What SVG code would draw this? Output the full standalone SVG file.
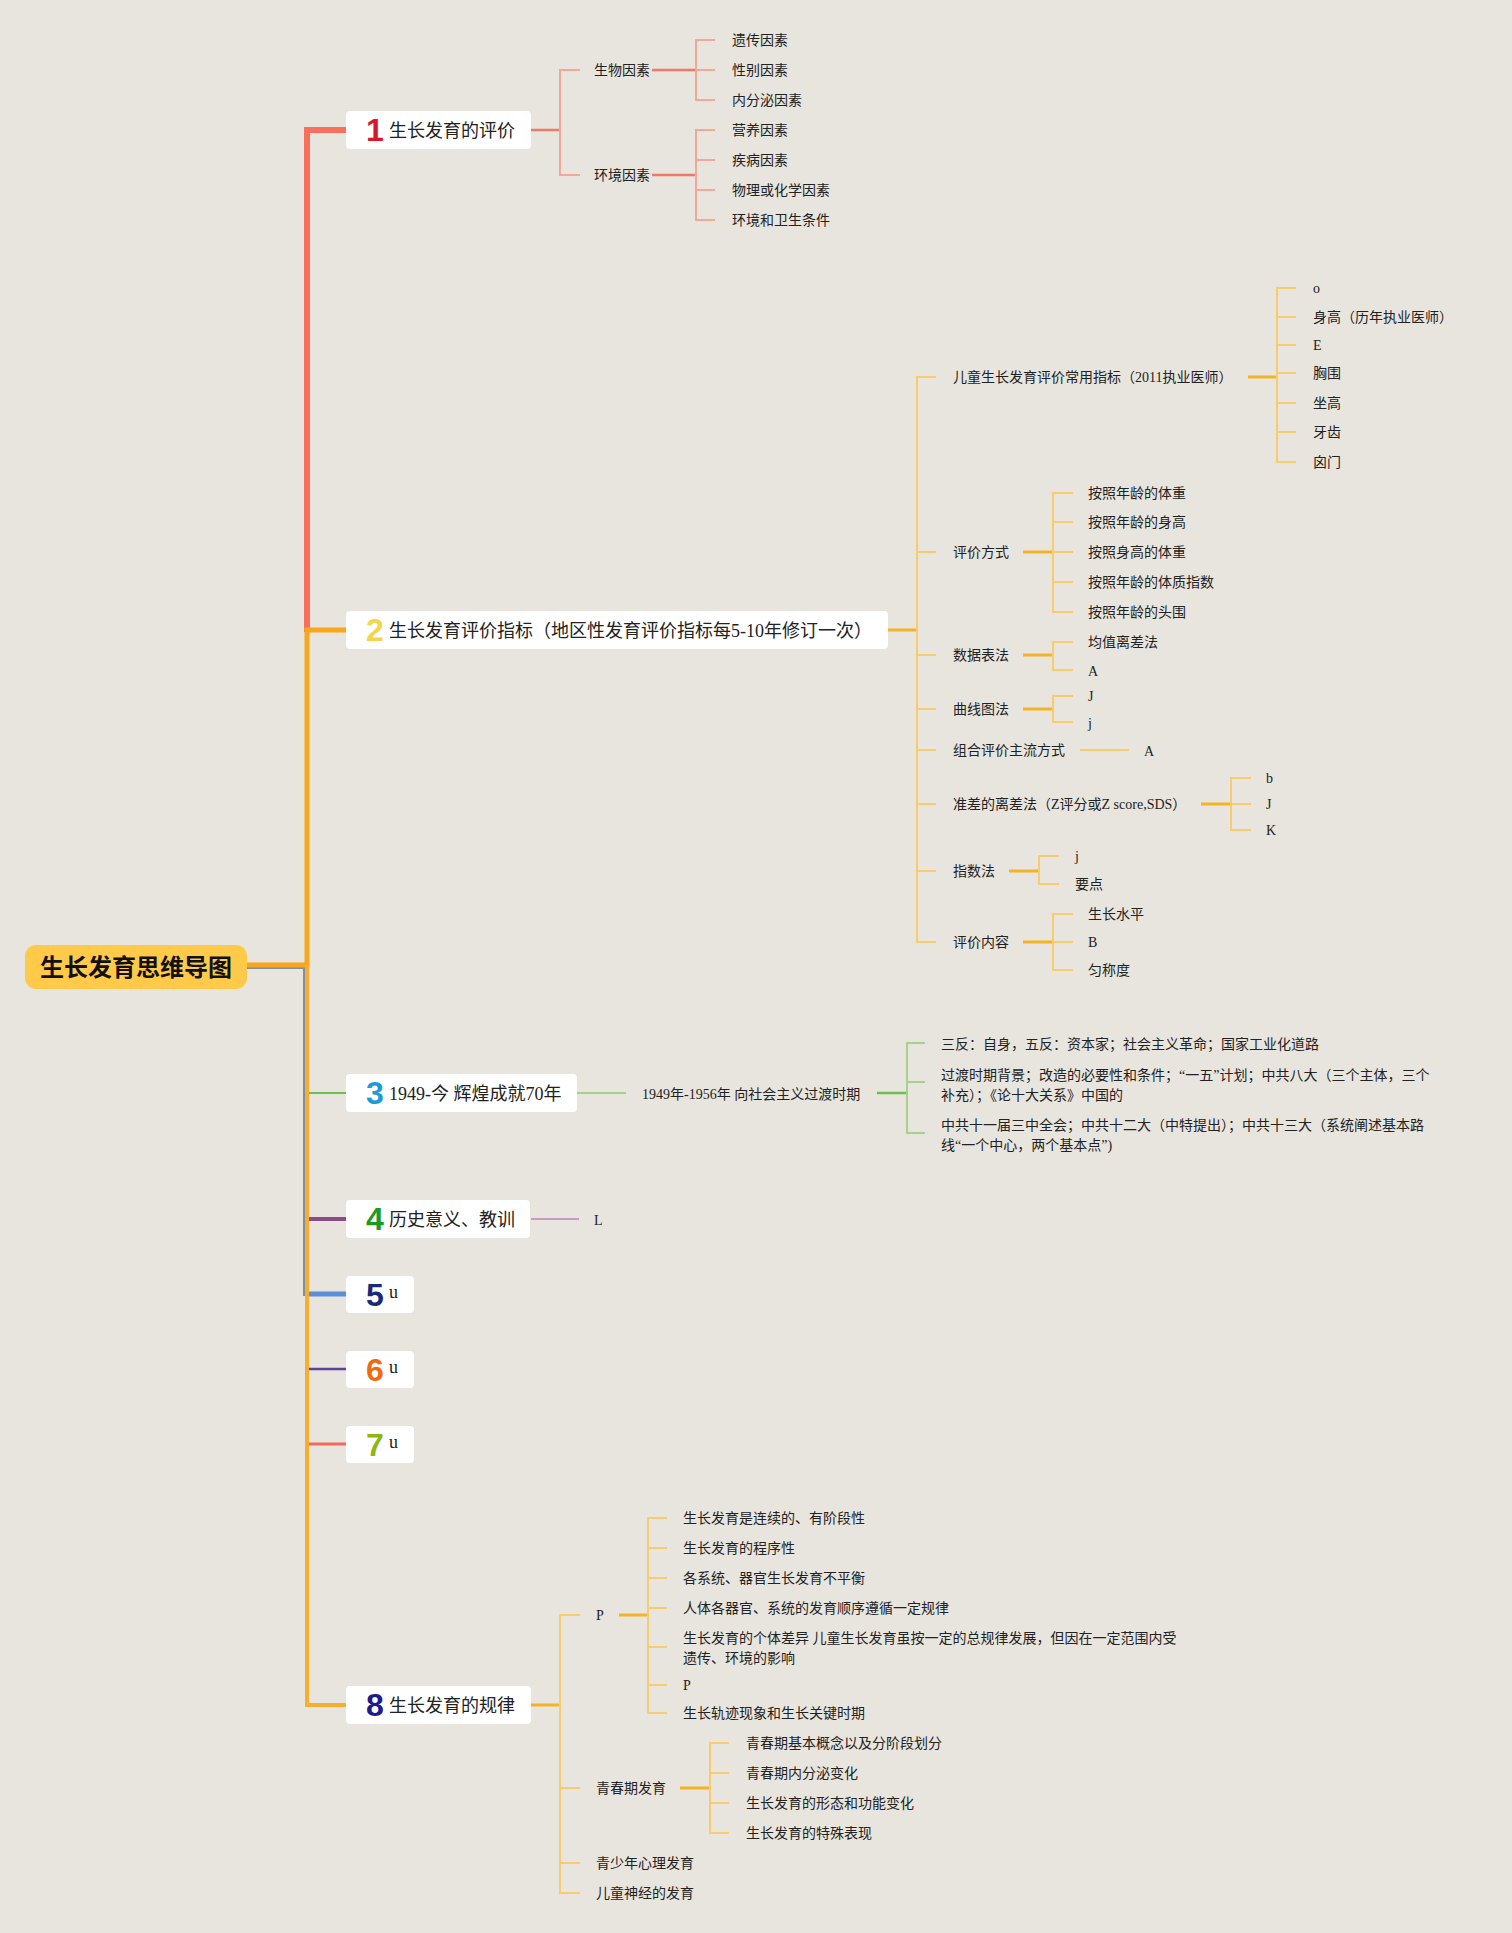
<svg xmlns="http://www.w3.org/2000/svg" width="1512" height="1933" viewBox="0 0 1512 1933">
<style>
.t{font-family:"Liberation Serif","Noto Sans CJK SC",serif;fill:#222}
.s14{font-size:14px}
.s18{font-size:18px}
.num{font-family:"Liberation Sans",Arial,sans-serif;font-weight:bold;font-size:32px}
.box{fill:#ffffff}
.c{fill:none;stroke-linecap:butt;stroke-linejoin:miter}
.r1{stroke:#EC7A66;stroke-width:2.5}
.r2{stroke:#F2A898;stroke-width:2}
.o1{stroke:#F5B226;stroke-width:3}
.o2{stroke:#F8CB6E;stroke-width:2}
.g1{stroke:#6DBE4A;stroke-width:2.5}
.g2{stroke:#A8D08D;stroke-width:2}
</style>
<rect x="0" y="0" width="1512" height="1933" fill="#E8E5DE"/>
<g id="connectors">
  <path class="c" d="M247,968 H304 V1296" stroke="#7F8DA2" stroke-width="2"/>
  <path class="c" d="M307,1294 H346" stroke="#5C8FD6" stroke-width="5"/>
  <path class="c" d="M307,632 V130 H346" stroke="#F86F5E" stroke-width="6"/>
  <path class="c" d="M247,965 H307 V630 H346" stroke="#F9A61B" stroke-width="5"/>
  <path class="c" d="M307,965 V1705 H346" stroke="#F7AE2E" stroke-width="4"/>
  <path class="c" d="M309,1093 H346" stroke="#6DBF4B" stroke-width="2"/>
  <path class="c" d="M309,1219 H346" stroke="#8C4A86" stroke-width="4"/>
  <path class="c" d="M309,1369 H346" stroke="#5B4199" stroke-width="2.5"/>
  <path class="c" d="M309,1444 H346" stroke="#F06B5B" stroke-width="3"/>
  <!-- branch 1 -->
  <path class="c r1" d="M531,130 H560"/>
  <path class="c r2" d="M580,70 H560 V175 H580"/>
  <path class="c r1" d="M652,70 H696"/>
  <path class="c r2" d="M715,40 H696 V100 H715 M696,70 H715"/>
  <path class="c r1" d="M652,175 H696"/>
  <path class="c r2" d="M715,130 H696 V220 H715 M696,160 H715 M696,190 H715"/>
  <!-- branch 2 -->
  <path class="c o1" d="M888,630 H917"/>
  <path class="c o2" d="M936,377 H917 V942 H936 M917,552 H936 M917,655 H936 M917,709 H936 M917,750 H936 M917,804 H936 M917,871 H936"/>
  <path class="c o1" d="M1248,377 H1277"/>
  <path class="c o2" d="M1296,288 H1277 V462 H1296 M1277,317 H1296 M1277,345 H1296 M1277,373 H1296 M1277,403 H1296 M1277,432 H1296"/>
  <path class="c o1" d="M1023,552 H1053"/>
  <path class="c o2" d="M1073,493 H1053 V612 H1073 M1053,522 H1073 M1053,552 H1073 M1053,582 H1073"/>
  <path class="c o1" d="M1023,655 H1053"/>
  <path class="c o2" d="M1073,642 H1053 V670 H1073"/>
  <path class="c o1" d="M1023,709 H1053"/>
  <path class="c o2" d="M1073,696 H1053 V722 H1073"/>
  <path class="c o2" d="M1080,750 H1129"/>
  <path class="c o1" d="M1201,804 H1231"/>
  <path class="c o2" d="M1251,778 H1231 V830 H1251 M1231,804 H1251"/>
  <path class="c o1" d="M1009,871 H1039"/>
  <path class="c o2" d="M1059,856 H1039 V884 H1059"/>
  <path class="c o1" d="M1023,942 H1053"/>
  <path class="c o2" d="M1073,914 H1053 V970 H1073 M1053,942 H1073"/>
  <!-- branch 3 -->
  <path class="c g2" d="M577,1093 H626"/>
  <path class="c g1" d="M877,1093 H907"/>
  <path class="c g2" d="M925,1043 H907 V1133 H925 M907,1082 H925"/>
  <!-- branch 4 -->
  <path class="c" d="M531,1219 H579" stroke="#C99AC2" stroke-width="2"/>
  <!-- branch 8 -->
  <path class="c o1" d="M531,1705 H560"/>
  <path class="c o2" d="M580,1615 H560 V1893 H580 M560,1788 H580 M560,1863 H580"/>
  <path class="c o1" d="M619,1615 H648"/>
  <path class="c o2" d="M667,1518 H648 V1713 H667 M648,1548 H667 M648,1578 H667 M648,1608 H667 M648,1647 H667 M648,1685 H667"/>
  <path class="c o1" d="M680,1788 H710"/>
  <path class="c o2" d="M729,1743 H710 V1833 H729 M710,1773 H729 M710,1803 H729"/>
</g>
<g id="root">
  <rect x="25" y="945" width="222" height="44" rx="11" fill="#FFC94A"/>
  <text x="136" y="976" text-anchor="middle" font-family="'Noto Sans CJK SC',sans-serif" font-weight="bold" font-size="24" fill="#111">生长发育思维导图</text>
</g>
<g id="node1">
  <rect class="box" x="346" y="111" width="185" height="38" rx="4"/>
  <text class="num" x="366" y="141" fill="#D7182A">1</text>
  <text class="t s18" x="389" y="137">生长发育的评价</text>
</g>
<g id="node1-children" class="t s14">
  <text x="594" y="75">生物因素</text>
  <text x="594" y="180">环境因素</text>
  <text x="732" y="45">遗传因素</text>
  <text x="732" y="75">性别因素</text>
  <text x="732" y="105">内分泌因素</text>
  <text x="732" y="135">营养因素</text>
  <text x="732" y="165">疾病因素</text>
  <text x="732" y="195">物理或化学因素</text>
  <text x="732" y="225">环境和卫生条件</text>
</g>
<g id="node2">
  <rect class="box" x="346" y="611" width="542" height="38" rx="4"/>
  <text class="num" x="366" y="641" fill="#F4D44B">2</text>
  <text class="t s18" x="389" y="637">生长发育评价指标（地区性发育评价指标每5-10年修订一次）</text>
</g>
<g id="node2-children" class="t s14">
  <text x="953" y="382">儿童生长发育评价常用指标（2011执业医师）</text>
  <text x="1313" y="293">o</text>
  <text x="1313" y="322">身高（历年执业医师）</text>
  <text x="1313" y="350">E</text>
  <text x="1313" y="378">胸围</text>
  <text x="1313" y="408">坐高</text>
  <text x="1313" y="437">牙齿</text>
  <text x="1313" y="467">囟门</text>
  <text x="953" y="557">评价方式</text>
  <text x="1088" y="498">按照年龄的体重</text>
  <text x="1088" y="527">按照年龄的身高</text>
  <text x="1088" y="557">按照身高的体重</text>
  <text x="1088" y="587">按照年龄的体质指数</text>
  <text x="1088" y="617">按照年龄的头围</text>
  <text x="953" y="660">数据表法</text>
  <text x="1088" y="647">均值离差法</text>
  <text x="1088" y="676">A</text>
  <text x="953" y="714">曲线图法</text>
  <text x="1088" y="701">J</text>
  <text x="1088" y="728">j</text>
  <text x="953" y="755">组合评价主流方式</text>
  <text x="1144" y="756">A</text>
  <text x="953" y="809">准差的离差法（Z评分或Z score,SDS）</text>
  <text x="1266" y="783">b</text>
  <text x="1266" y="809">J</text>
  <text x="1266" y="835">K</text>
  <text x="953" y="876">指数法</text>
  <text x="1075" y="861">j</text>
  <text x="1075" y="889">要点</text>
  <text x="953" y="947">评价内容</text>
  <text x="1088" y="919">生长水平</text>
  <text x="1088" y="947">B</text>
  <text x="1088" y="975">匀称度</text>
</g>
<g id="node3">
  <rect class="box" x="346" y="1074" width="231" height="38" rx="4"/>
  <text class="num" x="366" y="1104" fill="#1E9AD8">3</text>
  <text class="t s18" x="389" y="1100">1949-今 辉煌成就70年</text>
</g>
<g id="node3-children" class="t s14">
  <text x="642" y="1099">1949年-1956年 向社会主义过渡时期</text>
  <text x="941" y="1049">三反：自身，五反：资本家；社会主义革命；国家工业化道路</text>
  <text x="941" y="1080">过渡时期背景；改造的必要性和条件；“一五”计划；中共八大（三个主体，三个</text>
  <text x="941" y="1100">补充）；《论十大关系》中国的</text>
  <text x="941" y="1130">中共十一届三中全会；中共十二大（中特提出）；中共十三大（系统阐述基本路</text>
  <text x="941" y="1150">线“一个中心，两个基本点”)</text>
</g>
<g id="node4">
  <rect class="box" x="346" y="1200" width="184" height="38" rx="4"/>
  <text class="num" x="366" y="1230" fill="#1E9A22">4</text>
  <text class="t s18" x="389" y="1226">历史意义、教训</text>
  <text class="t s14" x="594" y="1225">L</text>
</g>
<g id="node5">
  <rect class="box" x="346" y="1276" width="68" height="37" rx="4"/>
  <text class="num" x="366" y="1306" fill="#1B2A78">5</text>
  <text class="t s18" x="389" y="1298">u</text>
</g>
<g id="node6">
  <rect class="box" x="346" y="1351" width="68" height="37" rx="4"/>
  <text class="num" x="366" y="1381" fill="#F26A10">6</text>
  <text class="t s18" x="389" y="1373">u</text>
</g>
<g id="node7">
  <rect class="box" x="346" y="1426" width="68" height="37" rx="4"/>
  <text class="num" x="366" y="1456" fill="#8CB716">7</text>
  <text class="t s18" x="389" y="1448">u</text>
</g>
<g id="node8">
  <rect class="box" x="346" y="1686" width="185" height="38" rx="4"/>
  <text class="num" x="366" y="1716" fill="#1F1A8F">8</text>
  <text class="t s18" x="389" y="1712">生长发育的规律</text>
</g>
<g id="node8-children" class="t s14">
  <text x="596" y="1620">P</text>
  <text x="683" y="1523">生长发育是连续的、有阶段性</text>
  <text x="683" y="1553">生长发育的程序性</text>
  <text x="683" y="1583">各系统、器官生长发育不平衡</text>
  <text x="683" y="1613">人体各器官、系统的发育顺序遵循一定规律</text>
  <text x="683" y="1643">生长发育的个体差异 儿童生长发育虽按一定的总规律发展，但因在一定范围内受</text>
  <text x="683" y="1663">遗传、环境的影响</text>
  <text x="683" y="1690">P</text>
  <text x="683" y="1718">生长轨迹现象和生长关键时期</text>
  <text x="596" y="1793">青春期发育</text>
  <text x="746" y="1748">青春期基本概念以及分阶段划分</text>
  <text x="746" y="1778">青春期内分泌变化</text>
  <text x="746" y="1808">生长发育的形态和功能变化</text>
  <text x="746" y="1838">生长发育的特殊表现</text>
  <text x="596" y="1868">青少年心理发育</text>
  <text x="596" y="1898">儿童神经的发育</text>
</g>
</svg>
